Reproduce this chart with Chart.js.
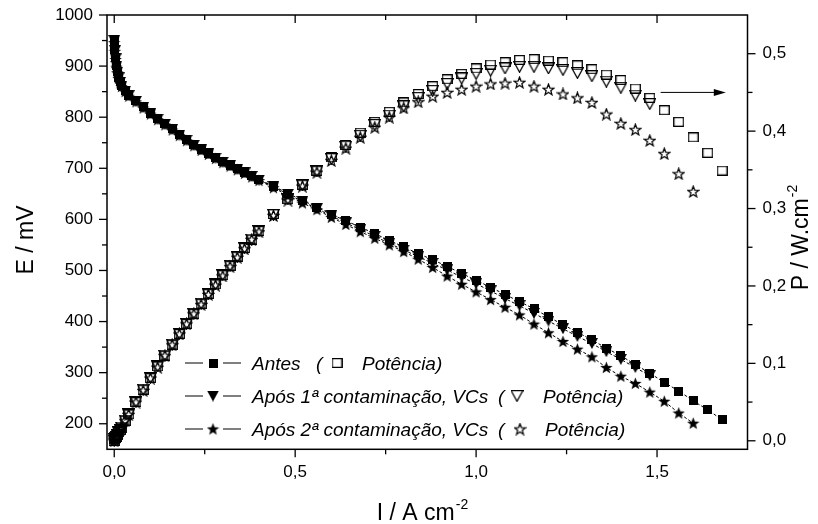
<!DOCTYPE html>
<html>
<head>
<meta charset="utf-8">
<script src="https://cdn.jsdelivr.net/npm/chart.js@4"></script>
<style>
html, body { margin: 0; padding: 0; background: #fff; }
canvas { display: block; }
</style>
</head>
<body>
<canvas id="chart" width="818" height="524"></canvas>
<script>
// current density, A cm-2 (shared by all series, each series stops earlier or later)
const current = [0, 0.002, 0.004, 0.006, 0.008, 0.012, 0.016, 0.02, 0.03, 0.04,
    0.06, 0.08, 0.10, 0.12, 0.14, 0.16, 0.18, 0.20, 0.22, 0.24, 0.26, 0.28, 0.30,
    0.32, 0.34, 0.36, 0.38, 0.40, 0.44, 0.48, 0.52, 0.56, 0.60, 0.64, 0.68, 0.72,
    0.76, 0.80, 0.84, 0.88, 0.92, 0.96, 1.00, 1.04, 1.08, 1.12, 1.16, 1.20, 1.24,
    1.28, 1.32, 1.36, 1.40, 1.44, 1.48, 1.52, 1.56, 1.60, 1.64, 1.68];

// cell potential, mV
const eAntes = [948, 932, 916, 902, 890, 878, 869, 862, 852, 843, 832, 820, 808, 797,
    787, 777, 766, 756, 746, 737, 729, 721, 713, 706, 699, 692, 685, 678,
    665, 651, 637, 624, 610, 597, 585, 572, 559, 546, 533, 521, 508, 494, 481, 467,
    453, 439, 425, 409, 394, 379, 364, 348, 333, 316, 299, 281, 264, 245, 227, 208];
const eApos1 = [950, 930, 914, 900, 888, 877, 868, 861, 851, 842, 831, 819, 807, 796,
    786, 776, 765, 755, 745, 736, 728, 720, 712, 705, 698, 691, 684, 677,
    664, 649, 635, 621, 607, 593, 580, 567, 553, 540, 527, 514, 501, 487, 474, 460,
    445, 431, 416, 401, 386, 371, 357, 341, 326, 310, 294];
const eApos2 = [946, 929, 913, 898, 887, 876, 867, 860, 850, 841, 830, 818, 806, 795,
    785, 775, 764, 754, 744, 735, 727, 719, 711, 704, 697, 690, 683, 676,
    662, 647, 632, 619, 604, 590, 576, 563, 550, 537, 522, 506, 489, 473, 458, 443,
    428, 413, 395, 378, 361, 346, 331, 310, 293, 279, 262, 244, 221, 201];

// power density, W cm-2
const pAntes = [0, 0.002, 0.004, 0.005, 0.007, 0.011, 0.014, 0.017, 0.026, 0.034, 0.050,
    0.066, 0.081, 0.096, 0.110, 0.124, 0.138, 0.151, 0.164, 0.177, 0.190, 0.202, 0.214,
    0.226, 0.238, 0.249, 0.260, 0.271,
    0.293, 0.312, 0.331, 0.349, 0.366, 0.382, 0.398, 0.412, 0.425, 0.437, 0.448, 0.458,
    0.467, 0.474, 0.481, 0.486, 0.489, 0.492, 0.493, 0.491, 0.489, 0.485, 0.480, 0.473,
    0.466, 0.455, 0.443, 0.427, 0.412, 0.392, 0.372, 0.349];
const pApos1 = [0, 0.002, 0.004, 0.005, 0.007, 0.011, 0.014, 0.017, 0.026, 0.034, 0.050,
    0.066, 0.081, 0.096, 0.110, 0.124, 0.138, 0.151, 0.164, 0.177, 0.189, 0.202, 0.214,
    0.226, 0.237, 0.249, 0.260, 0.271,
    0.292, 0.312, 0.330, 0.348, 0.364, 0.380, 0.394, 0.408, 0.420, 0.432, 0.443, 0.452,
    0.461, 0.468, 0.474, 0.478, 0.481, 0.483, 0.483, 0.481, 0.479, 0.475, 0.471, 0.464,
    0.456, 0.446, 0.435];
const pApos2 = [0, 0.002, 0.004, 0.005, 0.007, 0.011, 0.014, 0.017, 0.026, 0.034, 0.050,
    0.065, 0.081, 0.095, 0.110, 0.124, 0.138, 0.151, 0.164, 0.176, 0.189, 0.201, 0.213,
    0.225, 0.237, 0.248, 0.260, 0.270,
    0.291, 0.311, 0.329, 0.347, 0.362, 0.378, 0.392, 0.405, 0.418, 0.430, 0.438, 0.445,
    0.450, 0.454, 0.458, 0.461, 0.462, 0.463, 0.458, 0.454, 0.448, 0.443, 0.437, 0.422,
    0.410, 0.402, 0.388, 0.371, 0.345, 0.322];

// axis ticks
const iTicks = [0, 0.5, 1.0, 1.5];
const iMinor = [0.25, 0.75, 1.25];
const eTicks = [200, 300, 400, 500, 600, 700, 800, 900, 1000];
const eMinor = [250, 350, 450, 550, 650, 750, 850, 950];
const pTicks = [0, 0.1, 0.2, 0.3, 0.4, 0.5];
const pMinor = [0.05, 0.15, 0.25, 0.35, 0.45];

const FONT = "'Liberation Sans', Arial, sans-serif";

function marker(shape, filled, w, h) {
    const c = document.createElement('canvas');
    c.width = w;
    c.height = h;
    const g = c.getContext('2d');
    g.fillStyle = '#000';
    g.strokeStyle = '#000';
    g.lineWidth = 1.25;
    const o = filled ? 0 : 0.7;
    g.beginPath();
    if (shape === 'square') {
        g.rect(o, o, w - 2 * o, h - 2 * o);
    } else if (shape === 'triangle') {
        g.moveTo(o, o);
        g.lineTo(w - o, o);
        g.lineTo(w / 2, h - o);
        g.closePath();
    } else {
        const cx = w / 2, cy = h / 2 + 0.5, r = w / 2 - o, ri = r * 0.42;
        for (let k = 0; k < 10; k++) {
            const ang = -Math.PI / 2 + k * Math.PI / 5;
            const rr = k % 2 ? ri : r;
            const px = cx + rr * Math.cos(ang), py = cy + rr * Math.sin(ang);
            if (k === 0) g.moveTo(px, py); else g.lineTo(px, py);
        }
        g.closePath();
    }
    if (filled) g.fill(); else g.stroke();
    return c;
}

const mSquare = marker('square', true, 9, 9);
const mTri = marker('triangle', true, 12, 11);
const mStar = marker('star', true, 13, 13);
const oSquare = marker('square', false, 11, 10);
const oTri = marker('triangle', false, 13, 12);
const oStar = marker('star', false, 13, 13);

function pts(values) {
    return values.map((v, i) => ({ x: current[i], y: v }));
}

function eSet(values, style, order) {
    return {
        data: pts(values),
        yAxisID: 'y',
        showLine: true,
        borderColor: '#000',
        borderWidth: 1,
        borderDash: [3, 2],
        pointStyle: style,
        pointRadius: 5,
        order: order
    };
}

function pSet(values, style, order) {
    return {
        data: pts(values),
        yAxisID: 'y2',
        showLine: false,
        pointStyle: style,
        pointRadius: 5,
        order: order
    };
}

const comma = v => v.toFixed(1).replace('.', ',');

// keep the plot frame where the reference has it
function noPad(s) {
    s.paddingTop = 0;
    s.paddingBottom = 0;
    s.paddingLeft = 0;
    s.paddingRight = 0;
}

const decor = {
    id: 'decor',
    afterDraw(chart) {
        const ctx = chart.ctx;
        const a = chart.chartArea;
        const sx = chart.scales.x, sy = chart.scales.y, sp = chart.scales.y2;
        ctx.save();
        ctx.strokeStyle = '#000';
        ctx.fillStyle = '#000';

        function seg(x1, y1, x2, y2) {
            ctx.beginPath();
            ctx.moveTo(x1, y1);
            ctx.lineTo(x2, y2);
            ctx.stroke();
        }

        // frame and ticks
        ctx.lineWidth = 1.5;
        ctx.strokeRect(a.left, a.top, a.right - a.left, a.bottom - a.top);
        ctx.lineWidth = 1.3;
        iTicks.forEach(v => {
            const px = sx.getPixelForValue(v);
            seg(px, a.bottom, px, a.bottom + 8);
            seg(px, a.top, px, a.top + 8);
        });
        iMinor.forEach(v => {
            const px = sx.getPixelForValue(v);
            seg(px, a.bottom, px, a.bottom + 5);
            seg(px, a.top, px, a.top + 5);
        });
        eTicks.forEach(v => seg(a.left - 8, sy.getPixelForValue(v), a.left, sy.getPixelForValue(v)));
        eMinor.forEach(v => seg(a.left - 5, sy.getPixelForValue(v), a.left, sy.getPixelForValue(v)));
        pTicks.forEach(v => seg(a.right, sp.getPixelForValue(v), a.right + 8, sp.getPixelForValue(v)));
        pMinor.forEach(v => seg(a.right, sp.getPixelForValue(v), a.right + 5, sp.getPixelForValue(v)));

        // arrow pointing at the power axis
        const ay = sp.getPixelForValue(0.45);
        const ax1 = sx.getPixelForValue(1.51), ax2 = sx.getPixelForValue(1.69);
        ctx.lineWidth = 1;
        seg(ax1, ay, ax2 - 8, ay);
        ctx.beginPath();
        ctx.moveTo(ax2, ay);
        ctx.lineTo(ax2 - 12, ay - 3.5);
        ctx.lineTo(ax2 - 12, ay + 3.5);
        ctx.closePath();
        ctx.fill();

        // axis titles
        ctx.textBaseline = 'alphabetic';
        ctx.textAlign = 'left';
        const big = '23px ' + FONT, sup = '14px ' + FONT;

        ctx.save();
        ctx.translate(33, 240);
        ctx.rotate(-Math.PI / 2);
        ctx.font = big;
        ctx.textAlign = 'center';
        ctx.fillText('E / mV', 0, 0);
        ctx.restore();

        function withSup(main, s) {
            ctx.font = big;
            const w1 = ctx.measureText(main).width;
            ctx.font = sup;
            const w2 = ctx.measureText(s).width;
            const x0 = -(w1 + w2) / 2;
            ctx.font = big;
            ctx.fillText(main, x0, 0);
            ctx.font = sup;
            ctx.fillText(s, x0 + w1 + 1, -11);
        }

        ctx.save();
        ctx.translate(422, 520);
        withSup('I / A cm', '-2');
        ctx.restore();

        ctx.save();
        ctx.translate(808, 238);
        ctx.rotate(-Math.PI / 2);
        withSup('P / W.cm', '-2');
        ctx.restore();

        // legend
        const rows = [
            { y: 363, m: mSquare, o: oSquare, text: 'Antes', paren: 316, sym: 337, pot: 362 },
            { y: 396, m: mTri, o: oTri, text: 'Após 1ª contaminação, VCs', paren: 498, sym: 517, pot: 543 },
            { y: 429, m: mStar, o: oStar, text: 'Após 2ª contaminação, VCs', paren: 498, sym: 520, pot: 545 }
        ];
        ctx.font = 'italic 19px ' + FONT;
        ctx.lineWidth = 1;
        rows.forEach(r => {
            seg(185, r.y, 203, r.y);
            seg(223, r.y, 241, r.y);
            ctx.drawImage(r.m, 213 - r.m.width / 2, r.y - r.m.height / 2);
            ctx.fillText(r.text, 252, r.y + 7);
            ctx.fillText('(', r.paren, r.y + 7);
            ctx.drawImage(r.o, r.sym - r.o.width / 2, r.y - r.o.height / 2);
            ctx.fillText('Potência)', r.pot, r.y + 7);
        });
        ctx.restore();
    }
};

new Chart(document.getElementById('chart'), {
    type: 'scatter',
    data: {
        datasets: [
            eSet(eApos2, mStar, 1),
            eSet(eApos1, mTri, 2),
            eSet(eAntes, mSquare, 3),
            pSet(pApos2, oStar, 4),
            pSet(pApos1, oTri, 5),
            pSet(pAntes, oSquare, 6)
        ]
    },
    options: {
        responsive: false,
        animation: false,
        devicePixelRatio: 1,
        layout: { padding: { top: 15, left: 0, right: 0, bottom: 0 } },
        plugins: {
            legend: { display: false },
            tooltip: { enabled: false }
        },
        scales: {
            x: {
                type: 'linear',
                position: 'bottom',
                min: -0.02,
                max: 1.75,
                grid: { display: false, drawTicks: false },
                border: { display: false },
                afterBuildTicks: s => { s.ticks = iTicks.map(v => ({ value: v })); },
                afterFit: s => { s.height = 74.7; noPad(s); },
                ticks: {
                    padding: 13,
                    color: '#000',
                    font: { family: FONT, size: 17 },
                    maxRotation: 0,
                    callback: v => comma(v)
                }
            },
            y: {
                type: 'linear',
                position: 'left',
                min: 150,
                max: 1000,
                grid: { display: false, drawTicks: false },
                border: { display: false },
                afterBuildTicks: s => { s.ticks = eTicks.map(v => ({ value: v })); },
                afterFit: s => { s.width = 107; noPad(s); },
                ticks: {
                    padding: 14,
                    color: '#000',
                    font: { family: FONT, size: 17 },
                    callback: v => String(v)
                }
            },
            y2: {
                type: 'linear',
                position: 'right',
                min: -0.011,
                max: 0.55,
                grid: { display: false, drawTicks: false },
                border: { display: false },
                afterBuildTicks: s => { s.ticks = pTicks.map(v => ({ value: v })); },
                afterFit: s => { s.width = 70.5; noPad(s); },
                ticks: {
                    padding: 15,
                    color: '#000',
                    font: { family: FONT, size: 17 },
                    callback: v => comma(v)
                }
            }
        }
    },
    plugins: [decor]
});
</script>
</body>
</html>
